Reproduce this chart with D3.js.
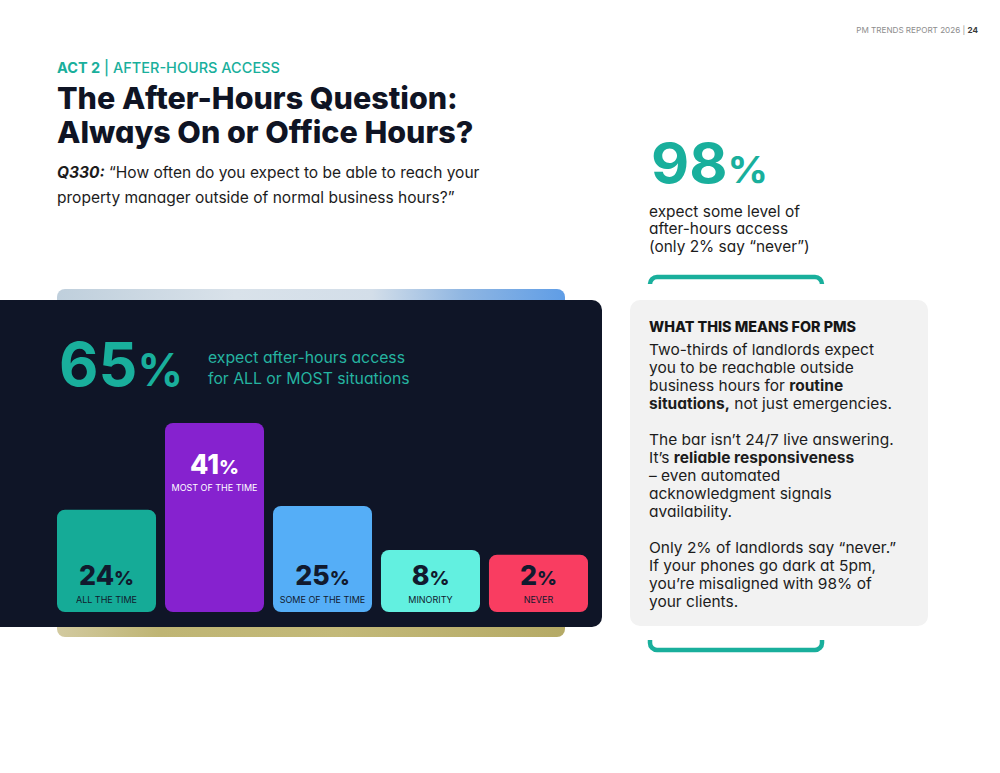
<!DOCTYPE html>
<html><head><meta charset="utf-8">
<script src="https://cdn.jsdelivr.net/npm/d3@7"></script>
<style>
html,body{margin:0;padding:0;background:#fff;}
svg{display:block;font-family:Inter,"Open Sans",sans-serif;font-feature-settings:"cv11" 1;}
text{white-space:pre;}
</style></head><body>
<svg id="chart" width="1000" height="773"></svg>
<script>
// ---------- data ----------
const categories = ["ALL THE TIME", "MOST OF THE TIME", "SOME OF THE TIME", "MINORITY", "NEVER"];
const values = [24, 41, 25, 8, 2];
const barColors = ["#15ab97", "#8622cf", "#55aef7", "#62f0e0", "#f93d61"];
const labelColors = ["#111a2e", "#ffffff", "#111a2e", "#111a2e", "#111a2e"];
const headlineStat = 98;
const chartStat = 65;
const headerText = ["PM TRENDS REPORT 2026 | ", "24"];
const kicker = [["ACT 2", 1], [" | AFTER-HOURS ACCESS", 0]];
const titleLines = ["The After-Hours Question:", "Always On or Office Hours?"];
const questionLines = [
  [["Q330:", 1, 1], [" \u201CHow often do you expect to be able to reach your", 0]],
  [["property manager outside of normal business hours?\u201D", 0]]
];
const headlineNote = ["expect some level of", "after-hours access", "(only 2% say \u201Cnever\u201D)"];
const chartNote = ["expect after-hours access", "for ALL or MOST situations"];
const cardTitle = "WHAT THIS MEANS FOR PMS";
const cardParagraphs = [
  [
    [["Two-thirds of landlords expect", 0]],
    [["you to be reachable outside", 0]],
    [["business hours for ", 0], ["routine", 1]],
    [["situations,", 1], [" not just emergencies.", 0]]
  ],
  [
    [["The bar isn\u2019t 24/7 live answering.", 0]],
    [["It\u2019s ", 0], ["reliable responsiveness", 1]],
    [["\u2013 even automated", 0]],
    [["acknowledgment signals", 0]],
    [["availability.", 0]]
  ],
  [
    [["Only 2% of landlords say \u201Cnever.\u201D", 0]],
    [["If your phones go dark at 5pm,", 0]],
    [["you\u2019re misaligned with 98% of", 0]],
    [["your clients.", 0]]
  ]
];

// ---------- helpers ----------
const svg = d3.select("#chart");
const TEAL = "#19af9c";
const NAVY = "#0f1527";

function line(g, x, y, segs, o) {
  const t = g.append("text").attr("x", x).attr("y", y)
    .attr("font-size", o.size).attr("fill", o.fill)
    .attr("text-anchor", o.anchor || "start");
  segs.forEach(s => {
    const ts = t.append("tspan").text(s[0])
      .attr("font-weight", s[1] ? (o.bold || 700) : (o.weight || 400));
    if (s[2]) ts.attr("font-style", "italic");
    if (s[3]) ts.attr("font-size", s[3]);
    if (s[4]) ts.attr("fill", s[4]);
  });
  return t;
}
// make a set of lines match the reference line's width with one common factor:
// shrink by font size when too wide, stretch by textLength when too narrow
function fitBlock(texts, refIndex, target) {
  const nat = texts.map(t => t.node().getComputedTextLength());
  const f = target / nat[refIndex];
  if (f < 1) {
    texts.forEach(t => {
      t.attr("font-size", +t.attr("font-size") * f);
      t.selectAll("tspan").each(function () {
        const s = d3.select(this);
        if (s.attr("font-size")) s.attr("font-size", +s.attr("font-size") * f);
      });
    });
  } else {
    texts.forEach((t, i) => t.attr("textLength", nat[i] * f).attr("lengthAdjust", "spacingAndGlyphs"));
  }
}

svg.append("rect").attr("width", 1000).attr("height", 773).attr("fill", "#fff");

// ---------- header ----------
const hdr = line(svg, 978, 32.5, [[headerText[0], 0, 0, 0, "#8d8d8d"], [headerText[1], 1, 0, 0, "#3a3a3a"]],
  {size: 9.5, fill: "#8d8d8d", anchor: "end", weight: 400, bold: 700});
fitBlock([hdr], 0, 122);

const kick = line(svg, 57, 73.3, kicker, {size: 15, fill: TEAL, weight: 500, bold: 700});
fitBlock([kick], 0, 223);

const tl = titleLines.map((s, i) => line(svg, 57, 108.5 + i * 34, [[s, 1]], {size: 31.5, fill: "#0f1424", bold: 800}));
fitBlock(tl, 0, 401);

const ql = questionLines.map((segs, i) => line(svg, 57, 178 + i * 25, segs, {size: 16, fill: "#1c1c1c", weight: 400, bold: 700}));
fitBlock(ql, 0, 423);

// ---------- 98% block ----------
const big98 = line(svg, 651, 183.3, [[String(headlineStat), 1], ["%", 1, 0, 37]], {size: 54.5, fill: TEAL, bold: 700});
fitBlock([big98], 0, 117);
const hn = headlineNote.map((s, i) => line(svg, 649, 216.5 + i * 17.6, [[s, 0]], {size: 15.5, fill: "#1c1c1c"}));
fitBlock(hn, 0, 151);

// teal accent (top of a rounded frame)
const defs = svg.append("defs");
defs.append("clipPath").attr("id", "clipTop").append("rect").attr("x", 640).attr("y", 270).attr("width", 200).attr("height", 14);
svg.append("rect").attr("x", 650).attr("y", 277).attr("width", 172).attr("height", 30).attr("rx", 7)
  .attr("fill", "none").attr("stroke", TEAL).attr("stroke-width", 4.5).attr("clip-path", "url(#clipTop)");

// ---------- backdrop strips behind dark panel ----------
const gTop = defs.append("linearGradient").attr("id", "gTop");
[["0%", "#bfcfdc"], ["35%", "#d9e2ea"], ["62%", "#d3dee9"], ["80%", "#8fb6e2"], ["100%", "#5f9de6"]]
  .forEach(s => gTop.append("stop").attr("offset", s[0]).attr("stop-color", s[1]));
const gBot = defs.append("linearGradient").attr("id", "gBot");
[["0%", "#d2caa0"], ["20%", "#bfb574"], ["55%", "#c3b979"], ["100%", "#b5aa66"]]
  .forEach(s => gBot.append("stop").attr("offset", s[0]).attr("stop-color", s[1]));
svg.append("rect").attr("x", 57).attr("y", 289).attr("width", 508).attr("height", 30).attr("rx", 8).attr("fill", "url(#gTop)");
svg.append("rect").attr("x", 57).attr("y", 607).attr("width", 508).attr("height", 30).attr("rx", 8).attr("fill", "url(#gBot)");

// ---------- dark panel ----------
svg.append("rect").attr("x", -20).attr("y", 300).attr("width", 622).attr("height", 327).attr("rx", 10).attr("fill", NAVY);

const big65 = line(svg, 59, 385.7, [[String(chartStat), 1], ["%", 1, 0, 48]], {size: 65, fill: TEAL, bold: 700});
fitBlock([big65], 0, 124);
const cn = chartNote.map((s, i) => line(svg, 208, 363 + i * 21, [[s, 0]], {size: 15.5, fill: "#25b3a0"}));
fitBlock(cn, 0, 197);

// ---------- bars ----------
const baseY = 612;
const x = d3.scaleBand().domain(categories).range([57, 588]).paddingInner(0.083).paddingOuter(0);
const h = d3.scalePow().exponent(2).domain([0, d3.max(values)]).range([57, 189]);
const maxV = d3.max(values);
const data = categories.map((c, i) => ({c, v: values[i], col: barColors[i], tc: labelColors[i]}));

const bars = svg.append("g").selectAll("g").data(data).join("g");
bars.append("rect")
  .attr("x", d => x(d.c)).attr("y", d => baseY - h(d.v))
  .attr("width", x.bandwidth()).attr("height", d => h(d.v))
  .attr("rx", 8).attr("fill", d => d.col);

const valTexts = [], catTexts = [];
bars.each(function (d) {
  const g = d3.select(this);
  const cx = x(d.c) + x.bandwidth() / 2;
  const top = baseY - h(d.v);
  const vy = d.v === maxV ? top + 51 : baseY - 27;
  const ly = d.v === maxV ? top + 68 : baseY - 9;
  valTexts.push(line(g, cx, vy, [[String(d.v), 1], ["%", 1, 0, 21]], {size: 29, fill: d.tc, bold: 800, anchor: "middle"}));
  catTexts.push(line(g, cx, ly, [[d.c, 0]], {size: 9.5, fill: d.tc, weight: 400, anchor: "middle"}));
});
fitBlock(valTexts, 0, 55);
fitBlock(catTexts, 1, 86);

// ---------- right card ----------
svg.append("rect").attr("x", 630).attr("y", 300).attr("width", 298).attr("height", 326).attr("rx", 10).attr("fill", "#f2f2f2");
const ct = line(svg, 649, 331.7, [[cardTitle, 1]], {size: 14, fill: "#161616", bold: 800});
fitBlock([ct], 0, 207);

const bodyTexts = [];
let yy = 355;
cardParagraphs.forEach((p, pi) => {
  p.forEach((segs, li) => {
    bodyTexts.push(line(svg, 649, yy, segs, {size: 15, fill: "#1c1c1c", weight: 400, bold: 700}));
    yy += 18;
  });
  yy += 18.5 - (pi === 1 ? 0 : 1);
});
fitBlock(bodyTexts, 0, 225);

// bottom teal accent (bottom of a rounded frame)
defs.append("clipPath").attr("id", "clipBot").append("rect").attr("x", 640).attr("y", 640).attr("width", 200).attr("height", 14);
svg.append("rect").attr("x", 650).attr("y", 620).attr("width", 172).attr("height", 30).attr("rx", 7)
  .attr("fill", "none").attr("stroke", TEAL).attr("stroke-width", 4.5).attr("clip-path", "url(#clipBot)");
</script>
</body></html>
